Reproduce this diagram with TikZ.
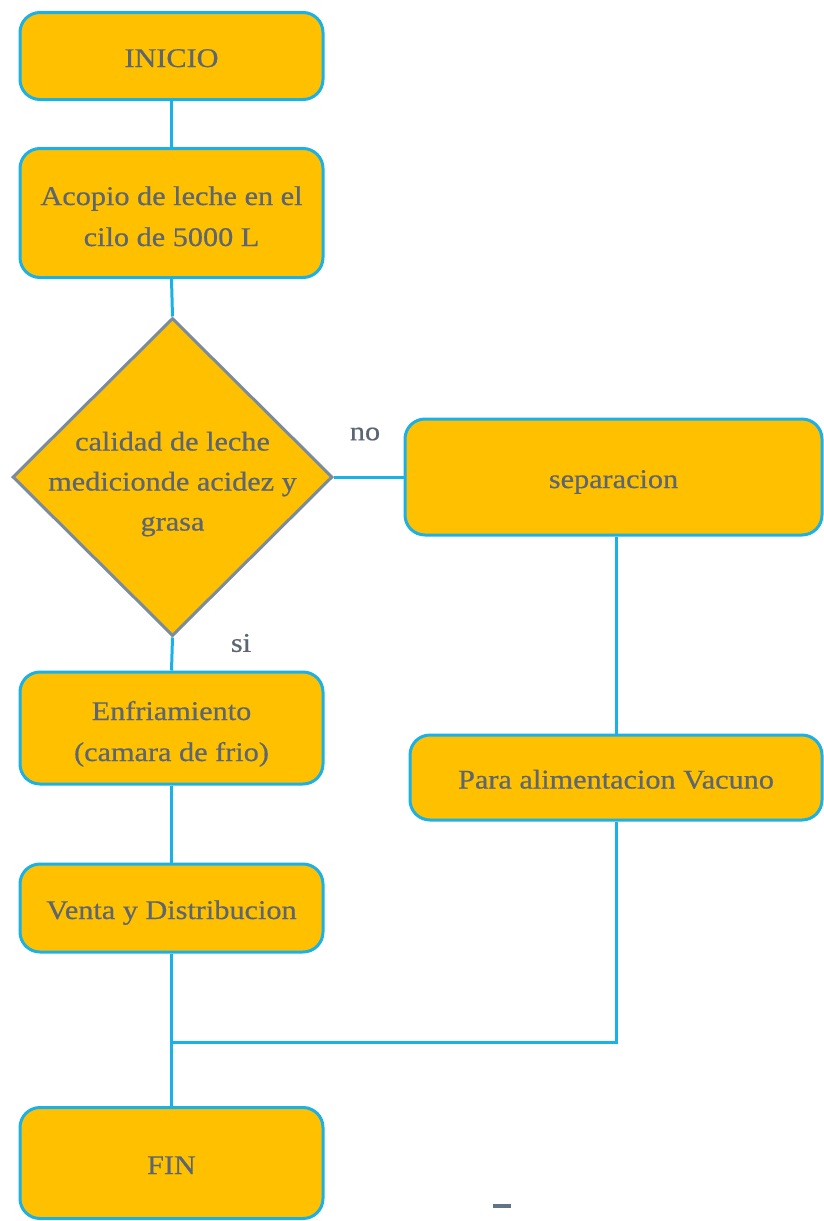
\documentclass[tikz,border=0pt]{standalone}
\usepackage{fontspec}
\setmainfont{Liberation Serif}
\newfontfamily\boxface[FakeStretch=1.12,FakeBold=0.6]{Liberation Serif}
\usetikzlibrary{shapes.geometric}
\definecolor{boxfill}{RGB}{255,192,0}
\definecolor{boxline}{RGB}{26,176,232}
\definecolor{txt}{RGB}{92,102,114}
\definecolor{diamline}{RGB}{122,140,156}
\definecolor{markcol}{RGB}{96,116,134}
% tall strut that lowers the first line of two- and three-line labels
\newcommand\toplinestrut{\rule{0pt}{35pt}}
\begin{document}
\begin{tikzpicture}[x=1pt,y=-1pt,
  every node/.style={font=\boxface\fontsize{27}{41}\selectfont, text=txt},
  % fixed first-line height and last-line depth so one-line labels sit alike
  evenlines/.style={execute at begin node={\rule{0pt}{#1}},
    execute at end node={\rule[-10pt]{0pt}{10pt}}},
  evenlines/.default=32pt,
  procbox/.style={draw=boxline, line width=3pt, fill=boxfill, rounded corners=20pt,
    inner sep=0pt, align=center, evenlines},
  decision/.style={draw=diamline, line width=3pt, fill=boxfill, diamond, inner sep=0pt},
  conn/.style={draw=boxline, line width=3pt},
  lbl/.style={inner sep=0pt}]
\useasboundingbox (0,0) rectangle (823,1221);

% process boxes
\node[procbox, minimum width=303pt, minimum height=87pt] (inicio) at (171.5,56) {INICIO};
\node[procbox, minimum width=303pt, minimum height=129pt] (acopio)
  at (171.5,213) {\toplinestrut Acopio de leche en el\\cilo de 5000 L};
\node[decision, minimum width=320pt, minimum height=318pt] (calidad) at (172.5,477) {};
\node[lbl, align=center, evenlines, font=\boxface\fontsize{27}{40}\selectfont]
  (calidadtxt) at (172.5,478)
  {\toplinestrut calidad de leche\\medicionde acidez y\\grasa};
\node[procbox, minimum width=417pt, minimum height=116pt] (separ) at (613.5,477) {separacion};
\node[procbox, minimum width=412pt, minimum height=85pt] (vacuno) at (616,777.5)
  {Para alimentacion Vacuno};
\node[procbox, minimum width=303pt, minimum height=112pt] (enfria)
  at (171.5,728) {\toplinestrut Enfriamiento\\(camara de frio)};
\node[procbox, minimum width=303pt, minimum height=88pt] (venta) at (171.5,908)
  {Venta y Distribucion};
\node[procbox, minimum width=303pt, minimum height=111pt] (fin) at (171.5,1163) {FIN};

% branch labels
\node[lbl] (nolbl) at (365,434) {no};
\node[lbl] (silbl) at (241,643) {si};

% small stray mark below the chart
\draw[markcol, line width=4pt] (492.5,1206) -- (511,1206);

% connectors
\coordinate (merge) at (171.5,1042);
\draw[conn] (inicio.south) -- (acopio.north);
\draw[conn] (acopio.south) -- (calidad.north);
\draw[conn] (calidad.east) -- (separ.west);
\draw[conn] (calidad.south) -- (enfria.north);
\draw[conn] (enfria.south) -- (venta.north);
\draw[conn] (venta.south) -- (fin.north);
\draw[conn] (vacuno.north) -- (vacuno.north |- separ.south);
\draw[conn] (vacuno.south) |- (merge);
\end{tikzpicture}
\end{document}
